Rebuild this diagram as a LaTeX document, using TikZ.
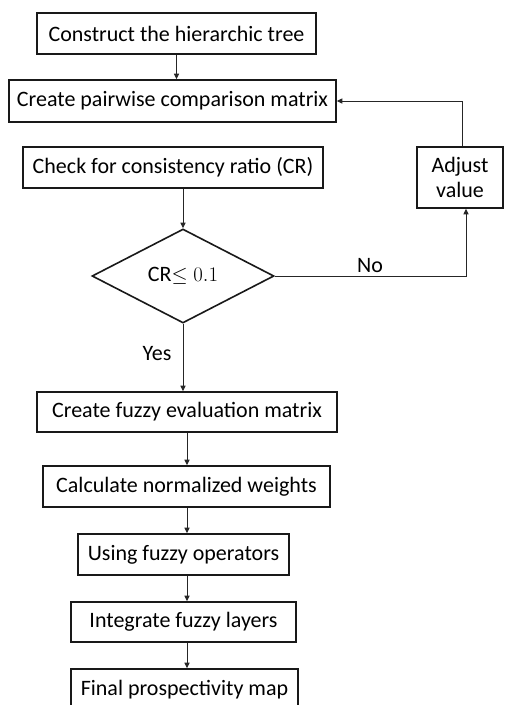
\documentclass[tikz,border=0pt]{standalone}
\usepackage{fontspec}
\setmainfont{Carlito}
\usetikzlibrary{arrows.meta,shapes.geometric}
\begin{document}
\begin{tikzpicture}[x=1pt,y=-1pt,
  every node/.style={font=\fontsize{22}{25}\selectfont, text=black},
  box/.style={draw=black!90, line width=1.6pt, inner sep=0pt, anchor=center},
  conn/.style={draw=black!85, line width=1pt},
  arr/.style={conn, -{Triangle[length=5.5pt,width=5pt]}},
  lbl/.style={inner sep=0pt}]
\useasboundingbox (0,0) rectangle (504,705);
\node[box, minimum width=279pt, minimum height=41pt] (b1) at (176.5,33.5) {Construct the hierarchic tree};
\node[box, minimum width=327pt, minimum height=42pt] (b2) at (172.5,101) {Create pairwise comparison matrix};
\node[box, minimum width=300pt, minimum height=41pt] (b3) at (173,167.5) {Check for consistency ratio (CR)};
\node[box, minimum width=86pt, minimum height=61pt, align=center] (adj) at (460,177.5) {Adjust\\value};
\node[box, shape=diamond, aspect=1.94, minimum width=182pt, minimum height=94pt] (dia) at (183,276) {CR$\leq 0.1$};
\node[box, minimum width=300pt, minimum height=40pt] (b4) at (187,412) {Create fuzzy evaluation matrix};
\node[box, minimum width=287pt, minimum height=41pt] (b5) at (186.5,486.5) {Calculate normalized weights};
\node[box, minimum width=211pt, minimum height=41pt] (b6) at (183.5,554.5) {Using fuzzy operators};
\node[box, minimum width=225pt, minimum height=40pt] (b7) at (183.5,622) {Integrate fuzzy layers};
\node[box, minimum width=227pt, minimum height=41pt] (b8) at (184.5,689.5) {Final prospectivity map};
\node[lbl] (no) at (370,266) {No};
\node[lbl] (yes) at (157,354) {Yes};
\coordinate (nc) at (466,276);
\coordinate (ac) at (462,101);
\draw[arr] (b1.south) -- (b1.south |- b2.north);
\draw[arr] (dia.north |- b3.south) -- (dia.north);
\draw[arr] (dia.east) -- (nc) -- (nc |- adj.south);
\draw[arr] (ac |- adj.north) -- (ac) -- (b2.east);
\draw[arr] (dia.south) -- (dia.south |- b4.north);
\draw[arr] (b4.south) -- (b4.south |- b5.north);
\draw[arr] (b4.south |- b5.south) -- (b4.south |- b6.north);
\draw[arr] (b4.south |- b6.south) -- (b4.south |- b7.north);
\draw[arr] (b4.south |- b7.south) -- (b4.south |- b8.north);
\end{tikzpicture}
\end{document}
